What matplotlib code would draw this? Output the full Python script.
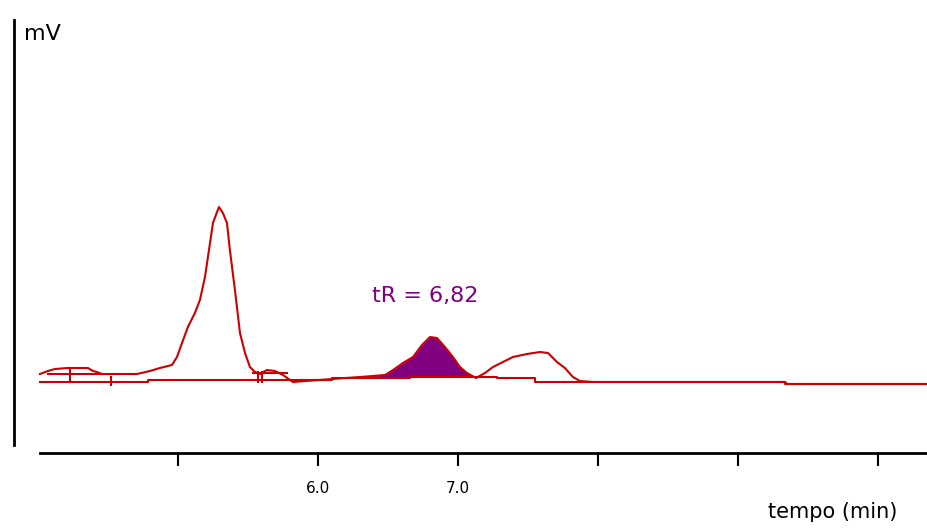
import matplotlib
matplotlib.use("Agg")
import matplotlib.pyplot as plt
import numpy as np

# chromatogram trace (time in min, signal in mV)
sig_t = [4.014, 4.071, 4.121, 4.214, 4.357, 4.393, 4.421, 4.457, 4.707, 4.8,
         4.871, 4.957, 4.993, 5.029, 5.071, 5.121, 5.157, 5.193, 5.229, 5.25,
         5.279, 5.293, 5.321, 5.35, 5.371, 5.407, 5.443, 5.479, 5.514, 5.55,
         5.586, 5.636, 5.693, 5.75, 5.821, 6.1, 6.3, 6.479, 6.536, 6.607,
         6.679, 6.743, 6.8, 6.85, 6.907, 6.964, 7.014, 7.064, 7.129, 7.193,
         7.25, 7.321, 7.393, 7.493, 7.586, 7.643, 7.707, 7.764, 7.821, 7.871,
         7.964, 9.336, 9.35, 10.35]
sig_mv = [0.9, 1.2, 1.4, 1.5, 1.5, 1.2, 1.1, 0.9, 0.9, 1.2,
          1.5, 1.8, 2.6, 4.0, 5.6, 7.0, 8.3, 10.6, 14.0, 16.0,
          17.1, 17.6, 17.0, 16.0, 13.3, 9.3, 5.0, 3.0, 1.6, 1.1,
          0.9, 1.3, 1.2, 0.8, 0.1, 0.4, 0.6, 0.8, 1.3, 2.0,
          2.6, 3.8, 4.6, 4.5, 3.6, 2.6, 1.6, 1.0, 0.5, 1.0,
          1.6, 2.1, 2.6, 2.9, 3.1, 3.0, 2.1, 1.5, 0.6, 0.2,
          0.1, 0.1, -0.1, -0.1]

# integration baseline
base_t = [4.014, 4.786, 4.786, 6.1, 6.1, 6.657, 6.657, 7.279, 7.279, 7.55,
          7.55, 9.336, 9.336, 10.35]
base_mv = [0.1, 0.1, 0.3, 0.3, 0.5, 0.5, 0.6, 0.6, 0.5, 0.5,
           0.1, 0.1, -0.1, -0.1]

# short local baselines under the small peaks
seg_t = [(4.071, 4.457), (5.536, 5.779)]
seg_mv = [(0.9, 0.9), (1.0, 1.0)]

# peak separator marks
mark_t = [4.229, 4.521, 5.571, 5.6]
mark_lo = [0.1, -0.3, 0.0, 0.0]
mark_hi = [1.6, 0.7, 1.2, 1.2]

# highlighted peak
peak_from, peak_to = 6.46, 7.13
peak_label = "tR = 6,82"

ticks = [5.0, 6.0, 7.0, 8.0, 9.0, 10.0]
tick_labels = ["", "6.0", "7.0", "", "", ""]

red = "#cc0000"
purple = "#800080"

fig = plt.figure(figsize=(9.27, 5.32), dpi=100)
ax = fig.add_axes([14 / 927, 79 / 532, 913 / 927, 433 / 532])

t = np.array(sig_t)
s = np.array(sig_mv)
b = np.interp(t, base_t, base_mv)
inpeak = (t >= peak_from) & (t <= peak_to)
ax.fill_between(t, s, b, where=inpeak, color=purple, lw=0, interpolate=True)

ax.plot(base_t, base_mv, color=red, lw=1.5)
for (x0, x1), (y0, y1) in zip(seg_t, seg_mv):
    ax.plot([x0, x1], [y0, y1], color=red, lw=1.5)
ax.vlines(mark_t, mark_lo, mark_hi, color=red, lw=1.5)
ax.plot(sig_t, sig_mv, color=red, lw=1.5)

ax.text(6.386, 8.7, peak_label, color=purple, fontsize=16, va="center", ha="left")

ax.set_xlim(3.829, 10.35)
ax.set_ylim(-7.0, 36.3)

for side in ["top", "right"]:
    ax.spines[side].set_visible(False)
ax.spines["left"].set_bounds(-6.2, 36.3)
ax.spines["bottom"].set_bounds(4.014, 10.35)
ax.spines["left"].set_linewidth(2)
ax.spines["bottom"].set_linewidth(2)

ax.set_yticks([])
ax.set_xticks(ticks)
ax.set_xticklabels(tick_labels, fontsize=11)
ax.tick_params(axis="x", direction="out", length=9, width=1.5, pad=11)

fig.text(24 / 927, 1 - 34 / 532, "mV", fontsize=16, va="center", ha="left")
fig.text(833 / 927, 1 - 512 / 532, "tempo (min)", fontsize=15, va="center", ha="center")

fig.savefig("out.png", dpi=100)
